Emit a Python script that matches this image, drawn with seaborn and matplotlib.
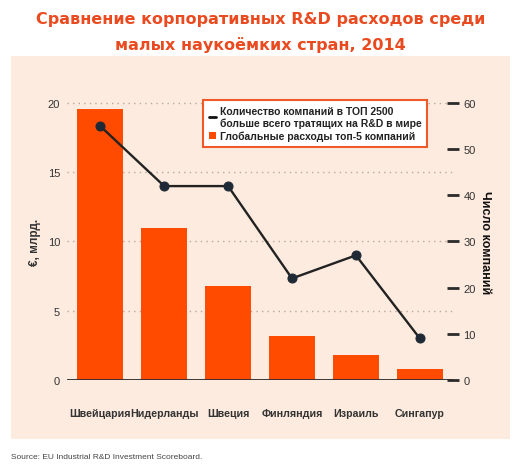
import pandas as pd
import matplotlib.pyplot as plt
import seaborn as sns
from matplotlib.patches import Rectangle
from matplotlib.lines import Line2D
from matplotlib.patches import Patch

# Data
countries = ['Швейцария', 'Нидерланды', 'Швеция', 'Финляндия', 'Израиль', 'Сингапур']
spend_bn = [19.6, 11.0, 6.75, 3.15, 1.83, 0.8]
companies = [55, 42, 42, 22, 27, 9]

df = pd.DataFrame({'country': countries, 'spend': spend_bn, 'companies': companies})

sns.set_style("white")
plt.rcParams['font.family'] = ['Liberation Sans Narrow', 'Liberation Sans', 'DejaVu Sans']

bar_color = '#FF4B00'
title_color = '#EA4A1F'
panel_color = '#FDEBDF'
text_color = '#333333'

fig = plt.figure(figsize=(5.21, 4.77), dpi=100)
fig.patch.set_facecolor('white')

# peach panel behind the chart
fig.patches.append(Rectangle((0.021, 0.078), 0.958, 0.803, transform=fig.transFigure,
                             facecolor=panel_color, edgecolor='none', zorder=-5))

ax = fig.add_axes([0.1286, 0.2013, 0.741, 0.5807])
ax.set_facecolor('none')

sns.barplot(data=df, x='country', y='spend', color=bar_color, width=0.72,
            saturation=1, linewidth=0, ax=ax, zorder=2)
ax.set_xlim(-0.52, 5.52)
ax.set_ylim(0, 20)
ax.set_yticks([0, 5, 10, 15, 20])
for y in [5, 10, 15, 20]:
    ax.axhline(y, color='#B8A89E', lw=1, ls=(0, (1, 3)), zorder=1, clip_on=False)
ax.axhline(0, color='#2B2B2B', lw=2, zorder=4)
for s in ax.spines.values():
    s.set_visible(False)
ax.tick_params(axis='y', length=0, pad=5, labelsize=8, labelcolor=text_color)
ax.tick_params(axis='x', length=0, pad=20, labelsize=7.7, labelcolor=text_color)
for lab in ax.get_xticklabels():
    lab.set_fontweight('bold')
ax.set_xlabel('')
ax.set_ylabel('€, млрд.', fontsize=8.5, fontweight='bold', color=text_color, labelpad=5)

# companies on right axis
ax2 = ax.twinx()
ax2.set_facecolor('none')
sns.lineplot(x=range(len(countries)), y=companies, ax=ax2, color='#222222', lw=1.7,
             marker='o', markersize=6.5, markerfacecolor='#1F2A36',
             markeredgecolor='#1F2A36', zorder=5)
ax2.set_ylim(0, 60)
ax2.set_yticks([0, 10, 20, 30, 40, 50, 60])
for s in ax2.spines.values():
    s.set_visible(False)
ax2.tick_params(axis='y', direction='inout', length=9, width=2, color='#2B2B2B', pad=3,
                labelsize=8, labelcolor=text_color)
ax2.set_ylabel('Число компаний', fontsize=9, fontweight='bold', color='#111111',
               rotation=270, labelpad=11)

handles = [Line2D([0], [0], color='#111111', lw=2),
           Patch(facecolor=bar_color, edgecolor='none')]
labels = ['Количество компаний в ТОП 2500\nбольше всего тратящих на R&D в мире',
          'Глобальные расходы топ-5 компаний']
leg = ax2.legend(handles, labels, loc='upper left', bbox_to_anchor=(0.34, 1.03),
                 frameon=True, fancybox=False, fontsize=7.5, handlelength=0.7,
                 handletextpad=0.3, borderpad=0.55, labelspacing=0.25)
leg.get_frame().set_edgecolor('#F05A28')
leg.get_frame().set_linewidth(1.5)
leg.get_frame().set_facecolor('white')
leg.get_frame().set_alpha(1)
for t in leg.get_texts():
    t.set_fontweight('bold')
    t.set_color('#222222')

fig.text(0.5, 0.975, 'Сравнение корпоративных R&D расходов среди\nмалых наукоёмких стран, 2014',
         ha='center', va='top', fontsize=11.5, fontweight='bold', color=title_color,
         family=['DejaVu Sans'], linespacing=1.75)
fig.text(0.021, 0.04, 'Source: EU Industrial R&D Investment Scoreboard.', fontsize=6,
         color='#444444', va='center')

fig.savefig('out.png', dpi=100)
